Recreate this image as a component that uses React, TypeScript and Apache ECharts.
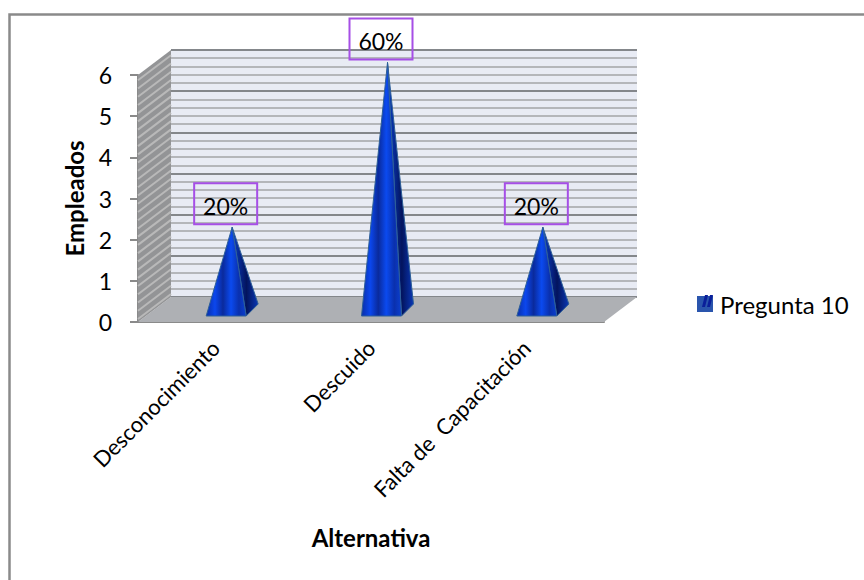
import React, { useEffect, useRef } from "react";
import * as echarts from "echarts";

const categories = ["Desconocimiento", "Descuido", "Falta de  Capacitación"];
const empleados = [2, 6, 2];
const porcentajes = ["20%", "60%", "20%"];
const yTicks = [0, 1, 2, 3, 4, 5, 6];
const serieName = "Pregunta 10";

const FONT = "Lato, Carlito, sans-serif";
const GRID = { left: 138, top: 75, width: 466, height: 247 };
const DEPTH_X = 33;
const DEPTH_Y = 25;
const AXIS_GRAY = "#8a8a8a";

const frontFill = () =>
  new echarts.graphic.LinearGradient(0, 0, 1, 0, [
    { offset: 0, color: "#0a2fa8" },
    { offset: 0.22, color: "#0b47ee" },
    { offset: 0.42, color: "#0a2a9c" },
    { offset: 0.62, color: "#0b4aef" },
    { offset: 0.82, color: "#0a30ad" },
    { offset: 1, color: "#0b3fd0" },
  ]);

const sideFill = () =>
  new echarts.graphic.LinearGradient(0, 0, 1, 0, [
    { offset: 0, color: "#0a3ec8" },
    { offset: 0.55, color: "#03145e" },
    { offset: 1, color: "#0a37b4" },
  ]);

// Floor and left wall of the 3D box, placed from the front axes' scale.
const renderRoom = (_params: any, api: any) => {
  const [, y0] = api.coord([0, 0]);
  const [, y6] = api.coord([0, 6]);
  const xLeft = GRID.left;
  const xRight = GRID.left + GRID.width;
  const stripes: any[] = [];
  const steps = 30;
  for (let i = 0; i < steps; i++) {
    const y = y0 + ((y6 - y0) * i) / steps;
    stripes.push({
      type: "line",
      shape: { x1: xLeft, y1: y - 3, x2: xLeft + DEPTH_X, y2: y - 3 - DEPTH_Y },
      style: { stroke: "#b9b9b9", lineWidth: 2 },
    });
  }
  return {
    type: "group",
    children: [
      {
        type: "polygon",
        shape: {
          points: [
            [xLeft, y0],
            [xLeft + DEPTH_X, y0 - DEPTH_Y],
            [xRight + DEPTH_X, y0 - DEPTH_Y],
            [xRight, y0],
          ],
        },
        style: { fill: "#aeb0b4" },
      },
      {
        type: "polygon",
        shape: {
          points: [
            [xLeft, y0],
            [xLeft, y6],
            [xLeft + DEPTH_X, y6 - DEPTH_Y],
            [xLeft + DEPTH_X, y0 - DEPTH_Y],
          ],
        },
        style: { fill: "#939496" },
      },
      ...stripes,
    ],
  };
};

// Each pyramid stands in the middle of the box depth, with its value label above.
const renderPyramid = (params: any, api: any) => {
  const i = api.value(0);
  const value = api.value(1);
  const [cx, baseY] = api.coord([i, 0]);
  const [, topY] = api.coord([i, value]);
  const mx = cx + DEPTH_X / 2;
  const my = baseY - DEPTH_Y / 2;
  const apex = [mx, topY - DEPTH_Y / 2];
  const fl = [mx - 26, my + 6.5];
  const fr = [mx + 14, my + 6.5];
  const br = [mx + 26, my - 5.5];
  const edge = "#2d5f98";
  const boxW = 63;
  const boxH = 41;
  const boxX = cx + 10 - boxW / 2;
  const boxY = apex[1] - 3 - boxH;
  return {
    type: "group",
    children: [
      {
        type: "polygon",
        shape: { points: [apex, fr, br] },
        style: { fill: sideFill(), stroke: edge, lineWidth: 1 },
      },
      {
        type: "polygon",
        shape: { points: [apex, fl, fr] },
        style: { fill: frontFill(), stroke: edge, lineWidth: 1 },
      },
      {
        type: "rect",
        shape: { x: boxX, y: boxY, width: boxW, height: boxH },
        style: { fill: "transparent", stroke: "#a64fe6", lineWidth: 2 },
      },
      {
        type: "text",
        x: boxX + boxW / 2,
        y: boxY + boxH / 2 + 2,
        style: {
          text: porcentajes[params.dataIndex],
          fontFamily: FONT,
          fontSize: 23,
          fill: "#000",
          align: "center",
          verticalAlign: "middle",
        },
      },
    ],
  };
};

export default function App() {
  const ref = useRef<HTMLDivElement>(null);

  useEffect(() => {
    const chart = echarts.init(ref.current!, undefined, { renderer: "svg" });
    chart.setOption({
      animation: false,
      backgroundColor: "#fff",
      textStyle: { fontFamily: FONT },
      grid: [
        {
          left: GRID.left,
          top: GRID.top,
          width: GRID.width,
          height: GRID.height,
        },
        {
          // back wall, shifted by the box depth
          left: GRID.left + DEPTH_X,
          top: GRID.top - DEPTH_Y,
          width: GRID.width,
          height: GRID.height,
          show: true,
          backgroundColor: "#e8ebf4",
          borderWidth: 0,
        },
      ],
      xAxis: [
        {
          type: "category",
          gridIndex: 0,
          data: categories,
          axisTick: { show: false },
          axisLine: { lineStyle: { color: AXIS_GRAY, width: 2 } },
          axisLabel: {
            rotate: 45,
            interval: 0,
            margin: 22,
            color: "#000",
            fontFamily: FONT,
            fontSize: 22,
          },
          name: "Alternativa",
          nameLocation: "middle",
          nameGap: 203,
          nameTextStyle: {
            fontFamily: FONT,
            fontSize: 24,
            fontWeight: "bold",
            color: "#000",
          },
        },
        {
          type: "value",
          gridIndex: 1,
          min: 0,
          max: 1,
          axisLine: { show: false },
          axisTick: { show: false },
          axisLabel: { show: false },
          splitLine: { show: false },
        },
      ],
      yAxis: [
        {
          type: "value",
          gridIndex: 0,
          min: 0,
          max: 6,
          interval: 1,
          axisLine: { show: true, lineStyle: { color: AXIS_GRAY, width: 2 } },
          axisTick: { show: true, length: 8, lineStyle: { color: AXIS_GRAY, width: 2 } },
          splitLine: { show: false },
          axisLabel: {
            margin: 26,
            color: "#000",
            fontFamily: FONT,
            fontSize: 23,
            formatter: (v: number) => (yTicks.includes(v) ? String(v) : ""),
          },
          name: "Empleados",
          nameLocation: "middle",
          nameGap: 52,
          nameTextStyle: {
            fontFamily: FONT,
            fontSize: 24,
            fontWeight: "bold",
            color: "#000",
          },
        },
        {
          type: "value",
          gridIndex: 1,
          min: 0,
          max: 6,
          interval: 1,
          axisLine: { show: false },
          axisTick: { show: false },
          axisLabel: { show: false },
          minorTick: { show: false, splitNumber: 5 },
          splitLine: { show: true, lineStyle: { color: "#84878b", width: 2 } },
          minorSplitLine: { show: true, lineStyle: { color: "#b4b6ba", width: 2 } },
        },
      ],
      legend: {
        left: 692,
        top: 287,
        itemWidth: 16,
        itemHeight: 16,
        itemGap: 0,
        data: [{ name: serieName, icon: "rect" }],
        textStyle: { color: "#000", fontFamily: FONT, fontSize: 24, padding: [0, 0, 0, 2] },
      },
      series: [
        {
          type: "custom",
          name: "room",
          xAxisIndex: 0,
          yAxisIndex: 0,
          data: [[0, 0]],
          clip: false,
          silent: true,
          z: 1,
          renderItem: renderRoom,
        },
        {
          type: "custom",
          name: serieName,
          xAxisIndex: 0,
          yAxisIndex: 0,
          data: empleados.map((v, i) => [i, v]),
          encode: { x: 0, y: 1 },
          clip: false,
          z: 5,
          itemStyle: { color: "#2a55ad" },
          renderItem: renderPyramid,
        },
      ],
      graphic: [
        {
          type: "polyline",
          z: 10,
          shape: { points: [[9.5, 580], [9.5, 14.5], [864, 14.5]] },
          style: { fill: "none", stroke: "#8a8a8a", lineWidth: 2.5 },
        },
        {
          type: "polygon",
          z: 10,
          shape: { points: [[702, 307], [705, 295], [708, 295], [705, 307]] },
          style: { fill: "#0a1f9a" },
        },
        {
          type: "polygon",
          z: 10,
          shape: { points: [[707, 307], [710, 295], [713, 295], [710, 307]] },
          style: { fill: "#0a1f9a" },
        },
      ],
    });
    return () => chart.dispose();
  }, []);

  return (
    <div
      ref={ref}
      style={{ position: "fixed", left: 0, top: 0, width: 864, height: 580 }}
    />
  );
}
